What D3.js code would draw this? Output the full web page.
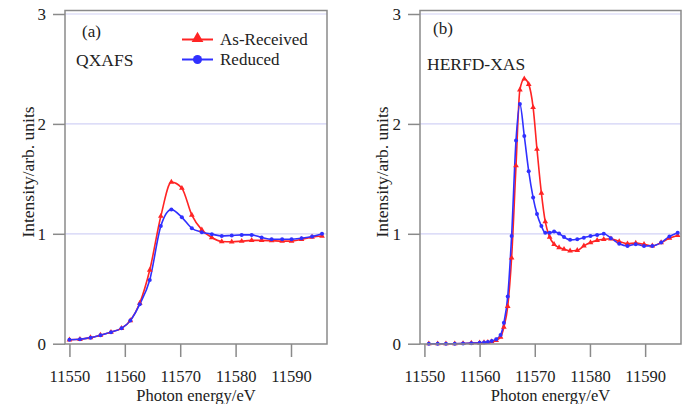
<!DOCTYPE html>
<html>
<head>
<meta charset="utf-8">
<script src="https://cdn.jsdelivr.net/npm/d3@7/dist/d3.min.js"></script>
<style>
  html, body { margin: 0; padding: 0; background: #fff; }
  svg { display: block; }
</style>
</head>
<body>
<svg id="chart" width="689" height="404"></svg>
<script>
// ---- Data ----
const xTicks = [11550, 11560, 11570, 11580, 11590];
const yTicks = [0, 1, 2, 3];
const seriesNames = ["As-Received", "Reduced"];

// Panel (a) QXAFS
const energyA = [11550, 11551.9, 11553.8, 11555.6, 11557.5, 11559.4, 11561.0, 11562.7, 11564.5,
  11566.5, 11568.4, 11570.3, 11572.1, 11573.9, 11575.7, 11577.5, 11579.3, 11581.1, 11582.9,
  11584.7, 11586.5, 11588.4, 11590.1, 11591.9, 11593.8, 11595.6];
const receivedA = [0.036, 0.04, 0.055, 0.078, 0.105, 0.14, 0.21, 0.37, 0.67,
  1.16, 1.47, 1.415, 1.17, 1.036, 0.966, 0.93, 0.927, 0.933, 0.94,
  0.94, 0.937, 0.933, 0.933, 0.95, 0.97, 0.98];
const reducedA = [0.036, 0.04, 0.055, 0.078, 0.105, 0.14, 0.21, 0.36, 0.58,
  1.07, 1.22, 1.15, 1.05, 1.015, 0.997, 0.98, 0.985, 0.99, 0.99,
  0.966, 0.95, 0.95, 0.95, 0.96, 0.975, 1.0];

// Panel (b) HERFD-XAS
const energyB = [11550.8, 11552.4, 11553.9, 11555.5, 11557.0, 11558.5, 11560.0, 11560.8, 11561.5,
  11562.2, 11563.0, 11563.8, 11564.4, 11565.1, 11565.8, 11566.6, 11567.3, 11568.1, 11568.9,
  11569.7, 11570.4, 11571.2, 11571.9, 11572.7, 11573.5, 11574.4, 11575.3, 11576.4, 11577.7,
  11578.9, 11580.1, 11581.3, 11582.5, 11583.8, 11585.3, 11586.8, 11588.3, 11589.8, 11591.3,
  11592.9, 11594.4, 11595.9];
const receivedB = [0, 0, 0, 0, 0.002, 0.005, 0.008, 0.01, 0.014,
  0.02, 0.03, 0.06, 0.15, 0.34, 0.78, 1.62, 2.31, 2.41, 2.36,
  2.15, 1.77, 1.37, 1.11, 0.97, 0.905, 0.875, 0.86, 0.845, 0.85,
  0.89, 0.92, 0.94, 0.95, 0.955, 0.93, 0.91, 0.915, 0.905, 0.89,
  0.92, 0.96, 0.985];
const reducedB = [0, 0, 0, 0, 0.002, 0.005, 0.008, 0.012, 0.016,
  0.024, 0.04, 0.08, 0.19, 0.43, 0.98, 1.85, 2.18, 1.89, 1.57,
  1.33, 1.18, 1.07, 1.01, 1.01, 1.02, 1.003, 0.97, 0.945, 0.95,
  0.965, 0.98, 0.99, 1.0, 0.96, 0.91, 0.89, 0.905, 0.89, 0.89,
  0.92, 0.975, 1.01];

// ---- Styles ----
const RED = "#ff2424";
const BLUE = "#3030ff";
const FRAME = "#8a8a8a";
const GRID = "#d2d2f6";
const FONT = '"Liberation Serif"';
const INK = "#222";

const svg = d3.select("#chart");

function txt(sel, size) {
  return sel.attr("font-family", null).style("font-family", FONT)
    .style("font-size", size + "px").attr("fill", INK);
}

const panels = [
  { label: "(a)", method: "QXAFS", x: energyA, red: receivedA, blue: reducedA,
    left: 65, right: 327, legend: true, labelPos: [82, 37], methodPos: [76, 66], yTitleX: 28 },
  { label: "(b)", method: "HERFD-XAS", x: energyB, red: receivedB, blue: reducedB,
    left: 420, right: 681, legend: false, labelPos: [433, 34], methodPos: [427, 70], yTitleX: 382 }
];

const frameTop = 10.5, frameBottom = 344;

panels.forEach(p => {
  const x = d3.scaleLinear().domain([11549.2, 11596.5]).range([p.left, p.right]);
  const y = d3.scaleLinear().domain([0, 3]).range([343.7, 14]);
  const g = svg.append("g");

  // gridlines
  g.selectAll("line.grid").data(yTicks.filter(v => v > 0)).enter().append("line")
    .attr("x1", p.left).attr("x2", p.right)
    .attr("y1", d => y(d)).attr("y2", d => y(d))
    .attr("stroke", GRID).attr("stroke-width", 1.2);

  // lines
  const line = d3.line().x(d => x(d[0])).y(d => y(d[1])).curve(d3.curveMonotoneX);
  const redPts = p.x.map((e, i) => [e, p.red[i]]);
  const bluePts = p.x.map((e, i) => [e, p.blue[i]]);

  g.append("path").datum(redPts).attr("d", line)
    .attr("fill", "none").attr("stroke", RED).attr("stroke-width", 1.6);
  g.append("path").datum(bluePts).attr("d", line)
    .attr("fill", "none").attr("stroke", BLUE).attr("stroke-width", 1.6);

  const tri = d3.symbol().type(d3.symbolTriangle).size(14);
  g.selectAll("path.tri").data(redPts).enter().append("path")
    .attr("d", tri).attr("transform", d => `translate(${x(d[0])},${y(d[1])})`)
    .attr("fill", RED);
  g.selectAll("circle.pt").data(bluePts).enter().append("circle")
    .attr("cx", d => x(d[0])).attr("cy", d => y(d[1])).attr("r", 2)
    .attr("fill", BLUE);

  // frame
  g.append("rect").attr("x", p.left).attr("y", frameTop)
    .attr("width", p.right - p.left).attr("height", frameBottom - frameTop)
    .attr("fill", "none").attr("stroke", FRAME).attr("stroke-width", 1.5);

  // axes
  const xAxis = g.append("g").attr("transform", `translate(0,${frameBottom})`)
    .call(d3.axisBottom(x).tickValues(xTicks).tickSize(13).tickFormat(d3.format("d")));
  xAxis.attr("font-family", null).attr("font-size", null);
  xAxis.select(".domain").remove();
  xAxis.selectAll("line").attr("stroke", FRAME).attr("stroke-width", 1.5);
  txt(xAxis.selectAll("text").attr("dy", null).attr("y", 38), 16.5);

  const yAxis = g.append("g").attr("transform", `translate(${p.left},0)`)
    .call(d3.axisLeft(y).tickValues(yTicks).tickSize(12).tickPadding(7).tickFormat(d3.format("d")));
  yAxis.attr("font-family", null).attr("font-size", null);
  yAxis.select(".domain").remove();
  yAxis.selectAll("line").attr("stroke", FRAME).attr("stroke-width", 1.5);
  txt(yAxis.selectAll("text"), 17);

  // titles
  txt(g.append("text").attr("x", (p.left + p.right) / 2).attr("y", 400.5)
    .attr("text-anchor", "middle"), 16.5).text("Photon energy/eV");
  txt(g.append("text").attr("transform", `translate(${p.yTitleX},172) rotate(-90)`)
    .attr("text-anchor", "middle").attr("dy", "0.35em"), 17.5).text("Intensity/arb. units");

  txt(g.append("text").attr("x", p.labelPos[0]).attr("y", p.labelPos[1]), 17).text(p.label);
  txt(g.append("text").attr("x", p.methodPos[0]).attr("y", p.methodPos[1]), 17.5).text(p.method);

  if (p.legend) {
    const items = [
      { name: seriesNames[0], color: RED, shape: "tri", y: 39.5 },
      { name: seriesNames[1], color: BLUE, shape: "circ", y: 59.5 }
    ];
    items.forEach(it => {
      g.append("line").attr("x1", 182).attr("x2", 213).attr("y1", it.y).attr("y2", it.y)
        .attr("stroke", it.color).attr("stroke-width", 2);
      if (it.shape === "tri") {
        g.append("path").attr("d", d3.symbol().type(d3.symbolTriangle).size(60)())
          .attr("transform", `translate(197.5,${it.y - 1})`).attr("fill", it.color);
      } else {
        g.append("circle").attr("cx", 197.5).attr("cy", it.y).attr("r", 4.5).attr("fill", it.color);
      }
      txt(g.append("text").attr("x", 220).attr("y", it.y + 5.5), 17).text(it.name);
    });
  }
});
</script>
</body>
</html>
